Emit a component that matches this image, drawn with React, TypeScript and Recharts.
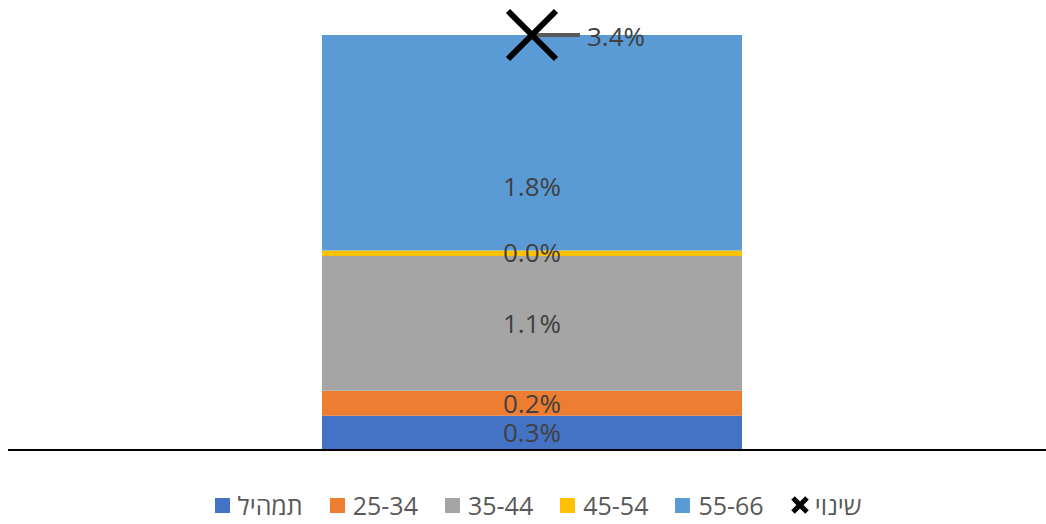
import React from 'react';
import { ComposedChart, Bar, Line, XAxis, YAxis, LabelList, ReferenceLine } from 'recharts';

// one stacked bar, values in percent
const categories = [''];
const mix = [0.28];
const age25 = [0.205];
const age35 = [1.105];
const age45 = [0.045];
const age55 = [1.765];
const change = [3.4];

const legendItems = [
  { name: 'תמהיל', color: '#4472C4' },
  { name: '25-34', color: '#ED7D31' },
  { name: '35-44', color: '#A5A5A5' },
  { name: '45-54', color: '#FFC000' },
  { name: '55-66', color: '#5B9BD5' },
];

const data = categories.map((c, i) => ({
  name: c,
  mix: mix[i],
  age25: age25[i],
  age35: age35[i],
  age45: age45[i],
  age55: age55[i],
  change: change[i],
}));

const FONT = '"Open Sans", "DejaVu Sans", sans-serif';
const LABEL_SIZE = 26;
const fmt = (v: any) => `${Number(v).toFixed(1)}%`;

const CrossDot = (props: any) => {
  const { cx, cy } = props;
  if (cx == null || cy == null) return null;
  const r = 24;
  return (
    <g>
      <line x1={cx} y1={cy} x2={cx + 48} y2={cy} stroke="#595959" strokeWidth={4} />
      <line x1={cx - r} y1={cy - r} x2={cx + r} y2={cy + r} stroke="#000" strokeWidth={6} />
      <line x1={cx - r} y1={cy + r} x2={cx + r} y2={cy - r} stroke="#000" strokeWidth={6} />
    </g>
  );
};

const TotalLabel = (props: any) => {
  const { x, y, value } = props;
  return (
    <text x={x + 55} y={y + 11} fill="#404040" fontSize={LABEL_SIZE} fontFamily={FONT}>
      {fmt(value)}
    </text>
  );
};

// Excel put this label lower than the segment centre
const TopSegLabel = (props: any) => {
  const { x, y, width, height, value } = props;
  return (
    <text
      x={x + width / 2}
      y={y + height * 0.7}
      textAnchor="middle"
      dominantBaseline="central"
      fill="#404040"
      fontSize={LABEL_SIZE}
      fontFamily={FONT}
    >
      {fmt(value)}
    </text>
  );
};

const segLabel = (key: string) => (
  <LabelList
    dataKey={key}
    position="center"
    formatter={fmt}
    fill="#404040"
    fontSize={LABEL_SIZE}
    fontFamily={FONT}
  />
);

const App = () => {
  return (
    <div style={{ position: 'absolute', left: 0, top: 0, width: 1046, height: 524, fontFamily: FONT }}>
      <ComposedChart
        width={1046}
        height={524}
        data={data}
        margin={{ top: 35, right: 0, left: 8, bottom: 74 }}
      >
        <XAxis dataKey="name" hide padding={{ left: 10, right: 0 }} />
        <YAxis hide domain={[0, 3.4]} />
        <Bar dataKey="mix" stackId="s" fill="#4472C4" barSize={420} isAnimationActive={false}>
          {segLabel('mix')}
        </Bar>
        <Bar dataKey="age25" stackId="s" fill="#ED7D31" barSize={420} isAnimationActive={false}>
          {segLabel('age25')}
        </Bar>
        <Bar dataKey="age35" stackId="s" fill="#A5A5A5" barSize={420} isAnimationActive={false}>
          {segLabel('age35')}
        </Bar>
        <Bar dataKey="age45" stackId="s" fill="#FFC000" barSize={420} isAnimationActive={false}>
          {segLabel('age45')}
        </Bar>
        <Bar dataKey="age55" stackId="s" fill="#5B9BD5" barSize={420} isAnimationActive={false}>
          <LabelList dataKey="age55" content={<TopSegLabel />} />
        </Bar>
        <ReferenceLine y={0} stroke="#000" strokeWidth={2} />
        <Line
          dataKey="change"
          stroke="none"
          dot={<CrossDot />}
          activeDot={false}
          isAnimationActive={false}
        >
          <LabelList dataKey="change" content={<TotalLabel />} />
        </Line>
      </ComposedChart>
      <div
        style={{
          position: 'absolute',
          top: 490,
          left: 0,
          width: 1046,
          boxSizing: 'border-box',
          paddingLeft: 30,
          display: 'flex',
          justifyContent: 'center',
          alignItems: 'center',
          gap: 27,
          color: '#595959',
          fontSize: 25,
          lineHeight: '30px',
        }}
      >
        {legendItems.map((it) => (
          <div key={it.name} style={{ display: 'flex', alignItems: 'center', gap: 8 }}>
            <span style={{ width: 15, height: 15, background: it.color, display: 'inline-block' }} />
            <span dir="auto">{it.name}</span>
          </div>
        ))}
        <div style={{ display: 'flex', alignItems: 'center', gap: 6 }}>
          <svg width={18} height={18} viewBox="0 0 18 18">
            <line x1={2} y1={2} x2={16} y2={16} stroke="#000" strokeWidth={5} />
            <line x1={2} y1={16} x2={16} y2={2} stroke="#000" strokeWidth={5} />
          </svg>
          <span dir="auto">שינוי</span>
        </div>
      </div>
    </div>
  );
};

export default App;
